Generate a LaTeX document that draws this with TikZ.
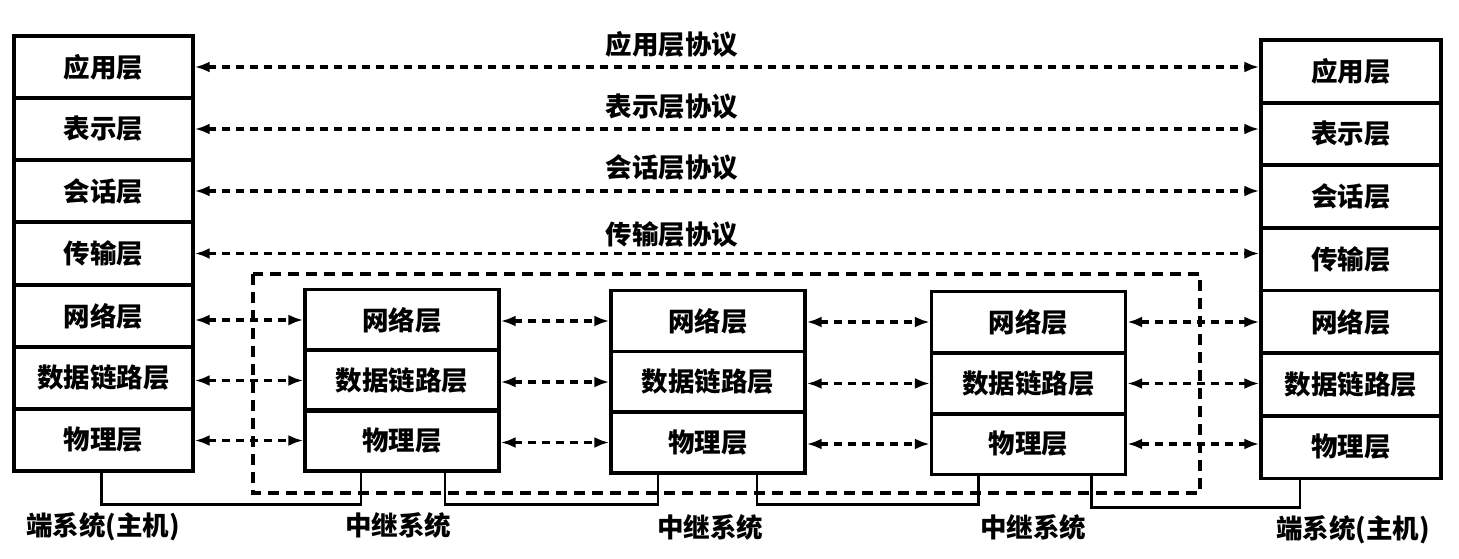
\documentclass[tikz,border=0pt]{standalone}
\usepackage{fontspec}
\newfontfamily\cjk{Noto Sans CJK SC}
\usetikzlibrary{arrows.meta}
\tikzset{
  layer/.style={draw, line width=3.4pt, inner sep=0pt, font=\cjk\bfseries\fontsize{26.5}{30}\selectfont},
  lstack/.style={layer, minimum width=179pt, minimum height=62pt},
  rstack/.style={layer, minimum width=180pt, minimum height=63pt},
  relay/.style={layer, minimum width=194pt, minimum height=61pt},
  peer/.style={line width=3.5pt, dash pattern=on 8pt off 6pt, {Latex[length=15pt,width=11pt]}-{Latex[length=15pt,width=11pt]}},
  wire/.style={line width=2.8pt},
  dashbox/.style={line width=3.3pt, dash pattern=on 11pt off 7pt},
  lbl/.style={font=\cjk\bfseries\fontsize{26.5}{30}\selectfont, inner sep=0pt}
}
\begin{document}
\begin{tikzpicture}[x=1pt, y=-1pt]
\useasboundingbox (0,0) rectangle (1459,559);
\fill[white] (0,0) rectangle (1459,559);

% end system (left)
\node[lstack] (L1) at (103.5,67) {应用层};
\node[lstack] (L2) at (103.5,129) {表示层};
\node[lstack] (L3) at (103.5,191) {会话层};
\node[lstack] (L4) at (103.5,253.5) {传输层};
\node[lstack] (L5) at (103.5,316) {网络层};
\node[lstack] (L6) at (103.5,378) {数据链路层};
\node[lstack] (L7) at (103.5,440) {物理层};

% end system (right)
\node[rstack] (R1) at (1351,71.5) {应用层};
\node[rstack] (R2) at (1351,134) {表示层};
\node[rstack] (R3) at (1351,196.5) {会话层};
\node[rstack] (R4) at (1351,259) {传输层};
\node[rstack] (R5) at (1351,322) {网络层};
\node[rstack] (R6) at (1351,384.5) {数据链路层};
\node[rstack] (R7) at (1351,447) {物理层};

% relay systems
\node[relay] (A1) at (402,320) {网络层};
\node[relay] (A2) at (402,380.5) {数据链路层};
\node[relay] (A3) at (402,440.5) {物理层};
\node[relay] (B1) at (708,321) {网络层};
\node[relay] (B2) at (708,382) {数据链路层};
\node[relay] (B3) at (708,442.5) {物理层};
\node[relay] (C1) at (1028.5,322) {网络层};
\node[relay] (C2) at (1028.5,383.5) {数据链路层};
\node[relay] (C3) at (1028.5,444) {物理层};

% subnet boundary
\draw[dashbox] (253,274) rectangle (1200,493);

% end-to-end peer protocols
\draw[peer] (L1.east) -- (L1.east -| R1.west);
\draw[peer] (L2.east) -- (L2.east -| R2.west);
\draw[peer] (L3.east) -- (L3.east -| R3.west);
\draw[peer] (L4.east) -- (L4.east -| R4.west);
\node[lbl] (P1) at (672,44) {应用层协议};
\node[lbl] (P2) at (672,107) {表示层协议};
\node[lbl] (P3) at (672,168) {会话层协议};
\node[lbl] (P4) at (672,235) {传输层协议};

% hop-by-hop peer protocols
\foreach \a/\b in {L5/A1, L6/A2, L7/A3, A1/B1, A2/B2, A3/B3, B1/C1, B2/C2, B3/C3}
  \draw[peer] (\b.west -| \a.east) -- (\b.west);
\foreach \a/\b in {C1/R5, C2/R6, C3/R7}
  \draw[peer] (\a.east) -- (\a.east -| \b.west);

% physical links
\draw[wire] ([xshift=-2pt]L7.south) -- ++(0,32) -| ([xshift=-41pt]A3.south);
\draw[wire] ([xshift=43pt]A3.south) -- ++(0,32) -| ([xshift=-50pt]B3.south);
\draw[wire] ([xshift=49pt]B3.south) -- ++(0,30) -| ([xshift=-50pt]C3.south);
\draw[wire] ([xshift=63pt]C3.south) -- ++(0,31) -| ([xshift=-51pt]R7.south);

% system captions
\node[lbl] (S1) at (103,527) {端系统(主机)};
\node[lbl] (S2) at (398,525) {中继系统};
\node[lbl] (S3) at (710,527) {中继系统};
\node[lbl] (S4) at (1033,527) {中继系统};
\node[lbl] (S5) at (1353,530) {端系统(主机)};
\end{tikzpicture}
\end{document}
